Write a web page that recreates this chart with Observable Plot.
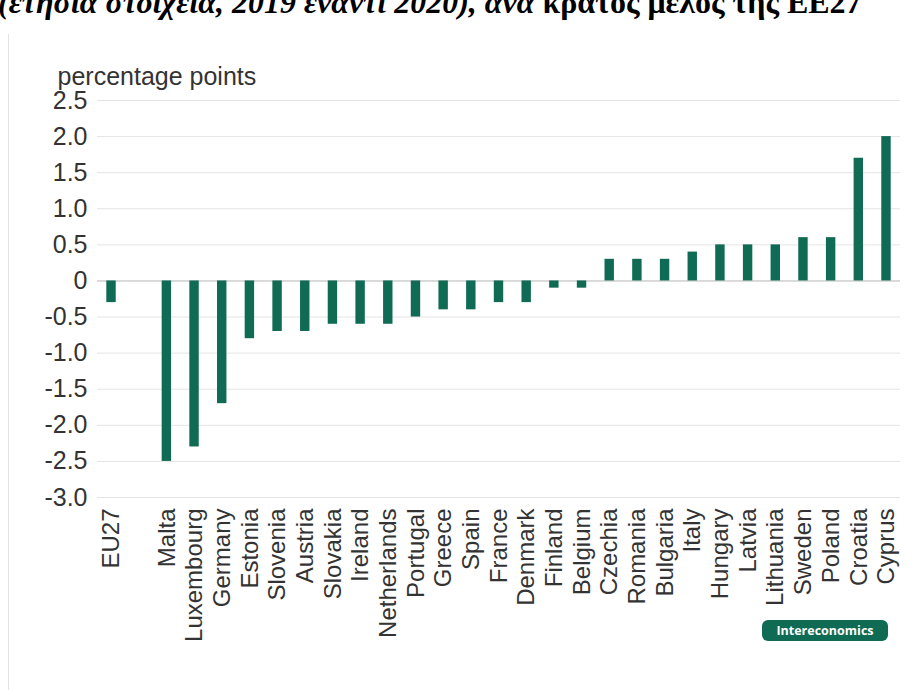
<!DOCTYPE html>
<html>
<head>
<meta charset="utf-8">
<script src="https://cdn.jsdelivr.net/npm/d3@7"></script>
<script src="https://cdn.jsdelivr.net/npm/@observablehq/plot@0.6"></script>
<style>
  html, body { margin: 0; padding: 0; background: #fff; }
  #wrap { position: relative; width: 915px; height: 690px; overflow: hidden; }
  #title { position: absolute; left: -2px; top: -14px; white-space: nowrap; line-height: 32px;
    font-family: "Liberation Serif", "DejaVu Serif", serif; font-weight: bold; font-size: 32px; color: #000; }
  #title i { font-style: italic; }
  #panel { position: absolute; left: 8px; top: 34px; width: 1px; height: 660px; background: #e2e2e2; }
  #chart { position: absolute; left: 0; top: 0; }
  #badge { position: absolute; left: 762px; top: 620px; width: 126px; height: 21px; border-radius: 6px;
    background: #0f6b53; color: #fff; font-family: "Open Sans", "DejaVu Sans", sans-serif; font-weight: bold;
    font-size: 12.5px; line-height: 21px; text-align: center; }
</style>
</head>
<body>
<div id="wrap">
  <div id="title"><i>(ετήσια στοιχεία, 2019 έναντι 2020), ανά</i> κράτος μέλος της ΕΕ27</div>
  <div id="panel"></div>
  <div id="chart"></div>
  <div id="badge">Intereconomics</div>
</div>
<script>
const categories = ["EU27", "", "Malta", "Luxembourg", "Germany", "Estonia", "Slovenia", "Austria", "Slovakia",
  "Ireland", "Netherlands", "Portugal", "Greece", "Spain", "France", "Denmark", "Finland", "Belgium",
  "Czechia", "Romania", "Bulgaria", "Italy", "Hungary", "Latvia", "Lithuania", "Sweden", "Poland",
  "Croatia", "Cyprus"];
const countries = ["EU27", "Malta", "Luxembourg", "Germany", "Estonia", "Slovenia", "Austria", "Slovakia",
  "Ireland", "Netherlands", "Portugal", "Greece", "Spain", "France", "Denmark", "Finland", "Belgium",
  "Czechia", "Romania", "Bulgaria", "Italy", "Hungary", "Latvia", "Lithuania", "Sweden", "Poland",
  "Croatia", "Cyprus"];
const values = [-0.3, -2.5, -2.3, -1.7, -0.8, -0.7, -0.7, -0.6, -0.6, -0.6, -0.5, -0.4, -0.4, -0.3, -0.3,
  -0.1, -0.1, 0.3, 0.3, 0.3, 0.4, 0.5, 0.5, 0.5, 0.6, 0.6, 1.7, 2.0];
const yTicks = [2.5, 2.0, 1.5, 1.0, 0.5, 0, -0.5, -1.0, -1.5, -2.0, -2.5, -3.0];
const yLabel = "percentage points";

const data = countries.map((c, i) => ({country: c, value: values[i]}));
const green = "#0f6b53";

const chart = Plot.plot({
  width: 915,
  height: 690,
  marginLeft: 97,
  marginRight: 15,
  marginTop: 100,
  marginBottom: 193,
  style: {fontFamily: "'Liberation Sans', Arial, Helvetica, sans-serif", fontSize: "24px", color: "#333", background: "transparent"},
  x: {domain: categories, paddingInner: 0.66, paddingOuter: 0.336, round: false, label: null},
  y: {domain: [-3, 2.5], label: null},
  marks: [
    Plot.gridY(yTicks, {stroke: "#e4e4e4", strokeOpacity: 1, strokeWidth: 1}),
    Plot.ruleY([0], {stroke: "#c4c4c4", strokeWidth: 1}),
    Plot.barY(data, {x: "country", y: "value", fill: green}),
    Plot.axisY(yTicks, {tickSize: 0, tickPadding: 10, fontSize: 25, tickFormat: d => d === 0 ? "0" : d.toFixed(1)}),
    Plot.axisX({tickSize: 0, tickPadding: 11, tickRotate: -90, fontSize: 24, label: null}),
    Plot.text([yLabel], {frameAnchor: "top-left", dx: -40, dy: -33, textAnchor: "start", fontSize: 25, fill: "#333"})
  ]
});
document.getElementById("chart").appendChild(chart);
</script>
</body>
</html>
